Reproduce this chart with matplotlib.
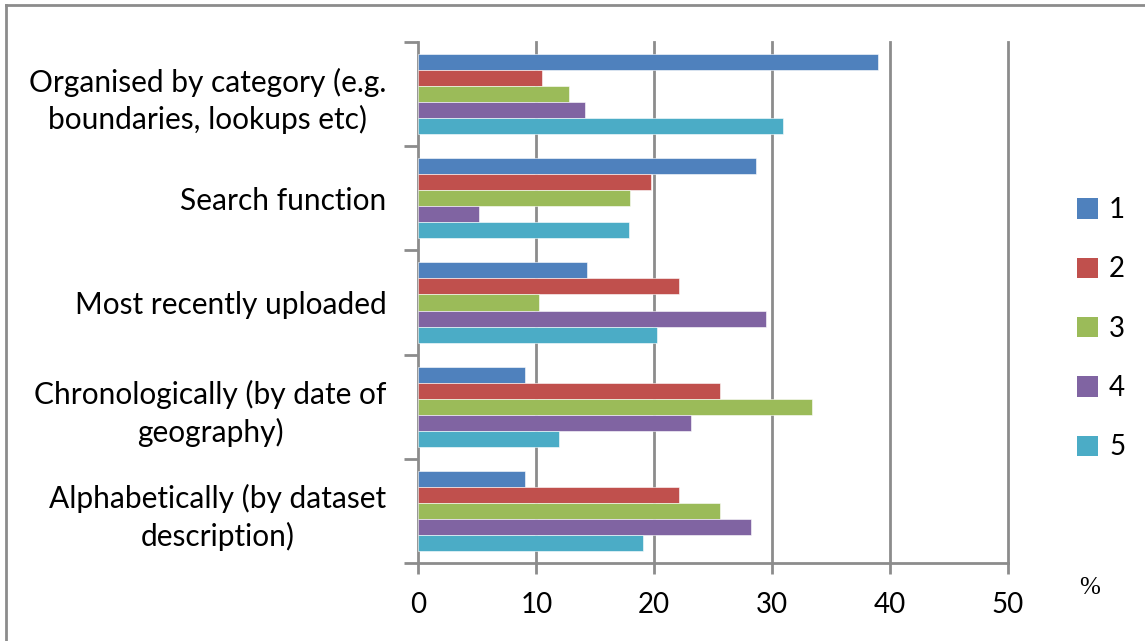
import matplotlib
matplotlib.use("Agg")
import matplotlib.pyplot as plt
import numpy as np
from matplotlib.patches import Patch
from matplotlib.lines import Line2D

categories = [
    "Organised by category (e.g.\nboundaries, lookups etc)",
    "Search function",
    "Most recently uploaded",
    "Chronologically (by date of\ngeography)",
    "Alphabetically (by dataset\ndescription)",
]
series_names = ["1", "2", "3", "4", "5"]
s1 = [39.0, 28.6, 14.3, 9.0, 9.0]
s2 = [10.45, 19.75, 22.1, 25.6, 22.1]
s3 = [12.8, 17.95, 10.2, 33.35, 25.6]
s4 = [14.1, 5.1, 29.5, 23.1, 28.2]
s5 = [30.95, 17.9, 20.2, 11.9, 19.05]
series = [s1, s2, s3, s4, s5]
colors = ["#4F81BD", "#C0504D", "#9BBB59", "#8064A2", "#4BACC6"]
xticks = [0, 10, 20, 30, 40, 50]

plt.rcParams['font.family'] = ['Lato', 'DejaVu Sans']
W, H = 1145, 641
fig = plt.figure(figsize=(W/100, H/100), dpi=100)
ax = fig.add_axes([418.4/W, 1-563/H, (1008-418.4)/W, (563-42)/H])

n = len(categories)
ncat = np.arange(n)[::-1]  # top category first
group = 1/1.3
bh = group / 5
for i, (vals, c) in enumerate(zip(series, colors)):
    y = ncat + group/2 - bh/2 - i*bh
    ax.barh(y, vals, height=bh, color=c, edgecolor='white', linewidth=0.4, zorder=3,
            label=series_names[i])

ax.set_xlim(0, 50)
ax.set_ylim(-0.5, n-0.5)
ax.set_xticks(xticks)
ax.set_xticklabels([str(t) for t in xticks], fontsize=20)
gc = "#8C8C8C"
for t in xticks[1:]:
    ax.axvline(t, color=gc, lw=2, zorder=1, clip_on=False)
ax.set_yticks(np.arange(n+1) - 0.5)
ax.set_yticklabels([])
ax.set_yticks(ncat, minor=True)
ax.set_yticklabels(categories, minor=True, fontsize=21.5, ha='right', multialignment='center', linespacing=1.35)
ax.tick_params(axis='y', which='minor', length=0, pad=23)
ax.tick_params(axis='y', which='major', length=10, width=2, color=gc, direction='out')
ax.tick_params(axis='x', length=8, width=2, color=gc, direction='out', pad=13)
for s in ['top', 'right']:
    ax.spines[s].set_visible(False)
ax.spines['left'].set_color(gc)
ax.spines['left'].set_linewidth(2)
ax.spines['bottom'].set_color(gc)
ax.spines['bottom'].set_linewidth(2)

handles = [Patch(facecolor=c, edgecolor='none') for c in colors]
fig.legend(handles, series_names, loc='upper left', bbox_to_anchor=(1066/W, 1-186/H),
           frameon=False, fontsize=20, handlelength=0.75, handleheight=0.75,
           handletextpad=0.4, labelspacing=1.2, borderaxespad=0)

fig.text(1090/W, 1-588/H, "%", fontsize=18, family='Liberation Serif', ha='center', va='center')

# figure border
fig.add_artist(Line2D([6/W, 6/W], [0, 1-5/H], color=gc, lw=2, transform=fig.transFigure))
fig.add_artist(Line2D([6/W, 1], [1-5/H, 1-5/H], color=gc, lw=2, transform=fig.transFigure))

fig.savefig("out.png", dpi=100)
